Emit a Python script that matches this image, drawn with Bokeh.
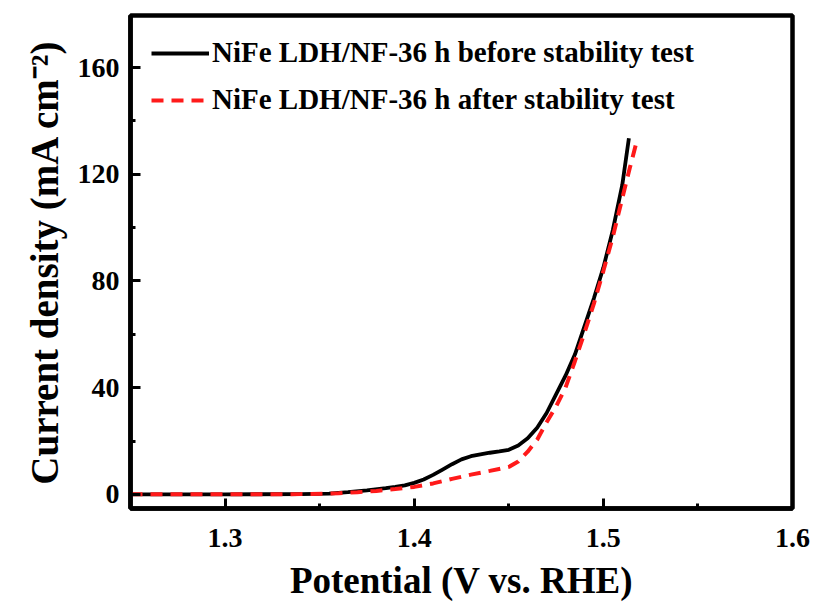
from bokeh.plotting import figure
from bokeh.models import FixedTicker, PrintfTickFormatter, Legend, LegendItem, Range1d
from bokeh.embed import file_html
from bokeh.resources import INLINE

# ---- data ----
potential_before = [1.25, 1.30, 1.34, 1.355, 1.365, 1.375, 1.385, 1.39, 1.395, 1.40, 1.405,
                    1.41, 1.415, 1.42, 1.425, 1.43, 1.435, 1.44, 1.445, 1.45, 1.455,
                    1.46, 1.465, 1.47, 1.475, 1.48, 1.485, 1.49, 1.495, 1.50, 1.505,
                    1.51, 1.5135]
current_before = [0.0, 0.0, 0.1, 0.3, 0.8, 1.5, 2.3, 2.8, 3.4, 4.3, 5.6,
                  7.3, 9.3, 11.3, 13.1, 14.3, 15.0, 15.6, 16.1, 16.7, 18.3,
                  21.0, 25.0, 30.5, 37.5, 44.5, 52.5, 63.0, 73.5, 85.0, 99.0,
                  116.0, 133.5]

potential_after = [1.25, 1.30, 1.34, 1.36, 1.37, 1.38, 1.39, 1.40, 1.41, 1.42, 1.43,
                   1.44, 1.45, 1.455, 1.46, 1.465, 1.47, 1.475, 1.48, 1.485, 1.49,
                   1.495, 1.50, 1.505, 1.51, 1.514, 1.5174]
current_after = [0.0, 0.0, 0.1, 0.4, 0.8, 1.3, 2.0, 2.8, 4.1, 5.8, 7.4,
                 8.8, 10.3, 12.3, 16.0, 20.5, 27.0, 33.0, 40.0, 50.0, 60.5,
                 71.5, 83.7, 96.5, 111.0, 122.4, 131.7]

x_major_ticks = [1.3, 1.4, 1.5, 1.6]
x_minor_ticks = [1.35, 1.45, 1.55]
y_major_ticks = [0, 40, 80, 120, 160]
y_minor_ticks = [20, 60, 100, 140]

series_labels = ["NiFe LDH/NF-36 h before stability test",
                 "NiFe LDH/NF-36 h after stability test"]
x_title = "Potential (V vs. RHE)"
y_title = "Current density (mA cm\u207b\u00b2)"

FONT = "Liberation Serif"

p = figure(width=814, height=607, output_backend="svg", toolbar_location=None,
           x_range=Range1d(1.25, 1.6), y_range=Range1d(-5.3, 179.5),
           min_border_left=130, min_border_right=22, min_border_top=15,
           min_border_bottom=99)

p.background_fill_color = "white"
p.border_fill_color = "white"
p.grid.visible = False
p.outline_line_color = "black"
p.outline_line_width = 4.5
p.outline_line_alpha = 1.0

r1 = p.line(potential_before, current_before, line_color="black", line_width=3.8)
r2 = p.line(potential_after, current_after, line_color="#ff1a1a", line_width=4,
            line_dash="12 8")

p.xaxis.ticker = FixedTicker(ticks=x_major_ticks, minor_ticks=x_minor_ticks)
p.yaxis.ticker = FixedTicker(ticks=y_major_ticks, minor_ticks=y_minor_ticks)
p.xaxis.formatter = PrintfTickFormatter(format="%.1f")
p.yaxis.formatter = PrintfTickFormatter(format="%d")

for ax in (p.xaxis, p.yaxis):
    ax.axis_line_width = 4.5
    ax.axis_line_color = "black"
    ax.major_tick_in = 10
    ax.major_tick_out = 0
    ax.minor_tick_in = 5
    ax.minor_tick_out = 0
    ax.major_tick_line_width = 3
    ax.minor_tick_line_width = 3
    ax.major_tick_line_color = "black"
    ax.minor_tick_line_color = "black"
    ax.major_label_text_font = FONT
    ax.major_label_text_font_style = "bold"
    ax.major_label_text_font_size = "28px"
    ax.major_label_text_color = "black"
    ax.axis_label_text_font = FONT
    ax.axis_label_text_font_style = "bold"
    ax.axis_label_text_color = "black"

p.xaxis.axis_label = x_title
p.yaxis.axis_label = y_title
p.xaxis.axis_label_text_font_size = "37px"
p.yaxis.axis_label_text_font_size = "39px"
p.xaxis.major_label_standoff = 20
p.xaxis.axis_label_standoff = 10
p.yaxis.major_label_standoff = 11
p.yaxis.axis_label_standoff = 9

legend = Legend(items=[LegendItem(label=series_labels[0], renderers=[r1]),
                       LegendItem(label=series_labels[1], renderers=[r2])],
                location="top_left", border_line_color=None,
                background_fill_alpha=0.0,
                label_text_font=FONT, label_text_font_style="bold",
                label_text_font_size="29px", label_text_color="black",
                glyph_width=58, glyph_height=24, label_height=24,
                label_standoff=3, spacing=14, padding=4, margin=21)
p.add_layout(legend)

open("out.html", "w").write(file_html(p, INLINE))
